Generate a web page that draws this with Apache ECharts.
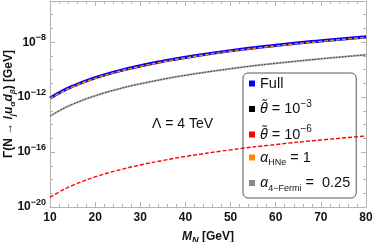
<!DOCTYPE html>
<html>
<head>
<meta charset="utf-8">
<script src="https://cdn.jsdelivr.net/npm/echarts@6/dist/echarts.min.js"></script>
<style>html,body{margin:0;padding:0;background:#fff}#c{width:374px;height:242px}</style>
</head>
<body>
<div id="c"></div>
<script>
// M_N in GeV
var massGeV = [10, 12, 15, 20, 25, 30, 35, 40, 50, 60, 70, 80];
// log10 of decay width [GeV]
var fullLog      = [-12.08, -11.69, -11.21, -10.59, -10.11, -9.72, -9.39, -9.10, -8.62, -8.23, -7.90, -7.61];
var theta3Log    = [-13.39, -13.00, -12.52, -11.90, -11.42, -11.03, -10.70, -10.41, -9.93, -9.54, -9.21, -8.92];
var theta6Log    = [-19.30, -18.91, -18.43, -17.81, -17.33, -16.94, -16.61, -16.32, -15.84, -15.45, -15.12, -14.83];
var alphaHNeLog  = [-12.12, -11.73, -11.25, -10.63, -10.15, -9.76, -9.43, -9.14, -8.66, -8.27, -7.94, -7.65];
var alpha4FLog   = [-13.39, -13.00, -12.52, -11.90, -11.42, -11.03, -10.70, -10.41, -9.93, -9.54, -9.21, -8.92];
var xTicks = [10, 20, 30, 40, 50, 60, 70, 80];
var yTickExps = [-20, -16, -12, -8];

function pairs(ys) { return massGeV.map(function (m, i) { return [m, ys[i]]; }); }

var names = ['Full', 'theta3', 'theta6', 'alphaHNe', 'alpha4F'];
var legendRich = {
  t: {fontSize: 14.5, fontFamily: 'Liberation Sans', color: '#111', lineHeight: 20},
  i: {fontSize: 14.5, fontFamily: 'Noto Sans', fontStyle: 'italic', color: '#111', lineHeight: 20},
  tl: {fontSize: 13, fontFamily: 'Liberation Sans', color: '#111', width: 0, align: 'left', verticalAlign: 'top', lineHeight: 14},
  sup: {fontSize: 10, fontFamily: 'Liberation Sans', color: '#111', verticalAlign: 'top', lineHeight: 20},
  sub: {fontSize: 9, fontFamily: 'Liberation Sans', color: '#111', verticalAlign: 'bottom', lineHeight: 16}
};
var legendText = {
  'Full': '{t|Full}',
  'theta3': '{tl|\u2009\u02DC}{i|θ}{t| = 10}{sup|−3}',
  'theta6': '{tl|\u2009\u02DC}{i|θ}{t| = 10}{sup|−6}',
  'alphaHNe': '{i|α}{sub|HNe}{t| = 1}',
  'alpha4F': '{i|α}{sub|4−Fermi}{t| =  0.25}'
};

var axisCol = '#b3b3b3';
var chart = echarts.init(document.getElementById('c'), null, {renderer: 'canvas'});
chart.setOption({
  animation: false,
  grid: {left: 50, right: 8, top: 1, bottom: 35, containLabel: false, outerBoundsMode: 'none'},
  xAxis: [{
    type: 'value', min: 10, max: 80, interval: 10, position: 'bottom',
    axisLine: {lineStyle: {color: axisCol}},
    axisTick: {inside: true, length: 5, lineStyle: {color: axisCol}},
    minorTick: {show: true, splitNumber: 5, length: 3, lineStyle: {color: axisCol}},
    splitLine: {show: false},
    axisLabel: {color: '#111', fontWeight: 'bold', fontSize: 12, fontFamily: 'Liberation Sans', margin: 5,
      formatter: function (v) { return xTicks.indexOf(v) >= 0 ? String(v) : ''; }},
    name: '{i|M}{s|N}{b| [GeV]}', nameLocation: 'middle', nameGap: 22, nameMoveOverlap: false,
    nameTextStyle: {rich: {
      i: {fontSize: 12, fontWeight: 'bold', fontStyle: 'italic', fontFamily: 'Liberation Sans', color: '#111', lineHeight: 16},
      s: {fontSize: 9, fontWeight: 'bold', fontStyle: 'italic', fontFamily: 'Liberation Sans', color: '#111', verticalAlign: 'bottom', lineHeight: 13},
      b: {fontSize: 12, fontWeight: 'bold', fontFamily: 'Liberation Sans', color: '#111', lineHeight: 16}
    }}
  }, {
    type: 'value', min: 10, max: 80, interval: 10, position: 'top',
    axisLine: {lineStyle: {color: axisCol}},
    axisTick: {inside: true, length: 5, lineStyle: {color: axisCol}},
    minorTick: {show: true, splitNumber: 5, length: 3, lineStyle: {color: axisCol}},
    splitLine: {show: false}, axisLabel: {show: false}
  }],
  yAxis: [{
    type: 'value', min: -20, max: -5, interval: 4, position: 'left',
    axisLine: {show: true, lineStyle: {color: axisCol}},
    axisTick: {show: true, inside: true, length: 5, lineStyle: {color: axisCol}},
    minorTick: {show: true, splitNumber: 4, length: 3, lineStyle: {color: axisCol}},
    splitLine: {show: false},
    axisLabel: {showMaxLabel: false, margin: 4,
      formatter: function (v) { return yTickExps.indexOf(v) >= 0 ? '{b|10}{s|' + String(v).replace('-', '−') + '}' : ''; },
      rich: {
        b: {fontSize: 12, fontWeight: 'bold', fontFamily: 'Liberation Sans', color: '#111', lineHeight: 18},
        s: {fontSize: 9, fontWeight: 'bold', fontFamily: 'Liberation Sans', color: '#111', verticalAlign: 'top', lineHeight: 18}
      }}
  }, {
    type: 'value', min: -20, max: -5, interval: 4, position: 'right',
    axisLine: {show: true, lineStyle: {color: axisCol}},
    axisTick: {show: true, inside: true, length: 5, lineStyle: {color: axisCol}},
    minorTick: {show: true, splitNumber: 4, length: 3, lineStyle: {color: axisCol}},
    splitLine: {show: false}, axisLabel: {show: false}
  }],
  legend: {
    data: names.map(function (n) { return {name: n, icon: 'rect'}; }),
    orient: 'vertical', left: 243, top: 73, width: 123,
    itemWidth: 6, itemHeight: 6, itemGap: 8,
    padding: [3, 6, 5, 6],
    backgroundColor: 'rgba(255,255,255,0)', borderColor: '#555', borderWidth: 1, borderRadius: 5,
    formatter: function (n) { return legendText[n]; },
    textStyle: {rich: legendRich, padding: [0, 0, 0, 0]}
  },
  graphic: [{
    type: 'text', left: 152, top: 117,
    style: {text: 'Λ = 4 TeV', fontSize: 14, fontFamily: 'Liberation Sans', fill: '#111'}
  }, {
    type: 'text', x: 9, y: 104, rotation: Math.PI / 2,
    style: {
      text: '{b|Γ(N → }{i|l}{s|j}{i|u}{s|α}{i|d}{s|β}{b|) [GeV]}',
      align: 'center', verticalAlign: 'middle',
      rich: {
        b: {fontSize: 12, fontWeight: 'bold', fontFamily: 'Liberation Sans', fill: '#111', lineHeight: 16},
        i: {fontSize: 12, fontWeight: 'bold', fontStyle: 'italic', fontFamily: 'Liberation Sans', fill: '#111', lineHeight: 16},
        s: {fontSize: 8, fontWeight: 'bold', fontStyle: 'italic', fontFamily: 'Liberation Sans', fill: '#111', verticalAlign: 'bottom', lineHeight: 12}
      }
    }
  }],
  series: [
    {name: 'Full', type: 'line', smooth: true, showSymbol: false, data: pairs(fullLog), z: 2,
      itemStyle: {color: '#0000ff'}, lineStyle: {color: '#0000ff', width: 3.2}},
    {name: 'alpha4F', type: 'line', smooth: true, showSymbol: false, data: pairs(alpha4FLog), z: 2,
      itemStyle: {color: '#8a8a8a'}, lineStyle: {color: '#b0b0b0', width: 2}},
    {name: 'theta3', type: 'line', smooth: true, showSymbol: false, data: pairs(theta3Log), z: 3,
      itemStyle: {color: '#000'}, lineStyle: {color: '#333', width: 1, type: [1.5, 1.5]}},
    {name: 'theta6', type: 'line', smooth: true, showSymbol: false, data: pairs(theta6Log), z: 3,
      itemStyle: {color: '#ff0000'}, lineStyle: {color: '#ff0000', width: 1.4, type: [4, 2]}},
    {name: 'alphaHNe', type: 'line', smooth: true, showSymbol: false, data: pairs(alphaHNeLog), z: 3,
      itemStyle: {color: '#ff8c00'}, lineStyle: {color: '#ff8c00', width: 1.4, type: [4, 2]}}
  ]
});
</script>
</body>
</html>
